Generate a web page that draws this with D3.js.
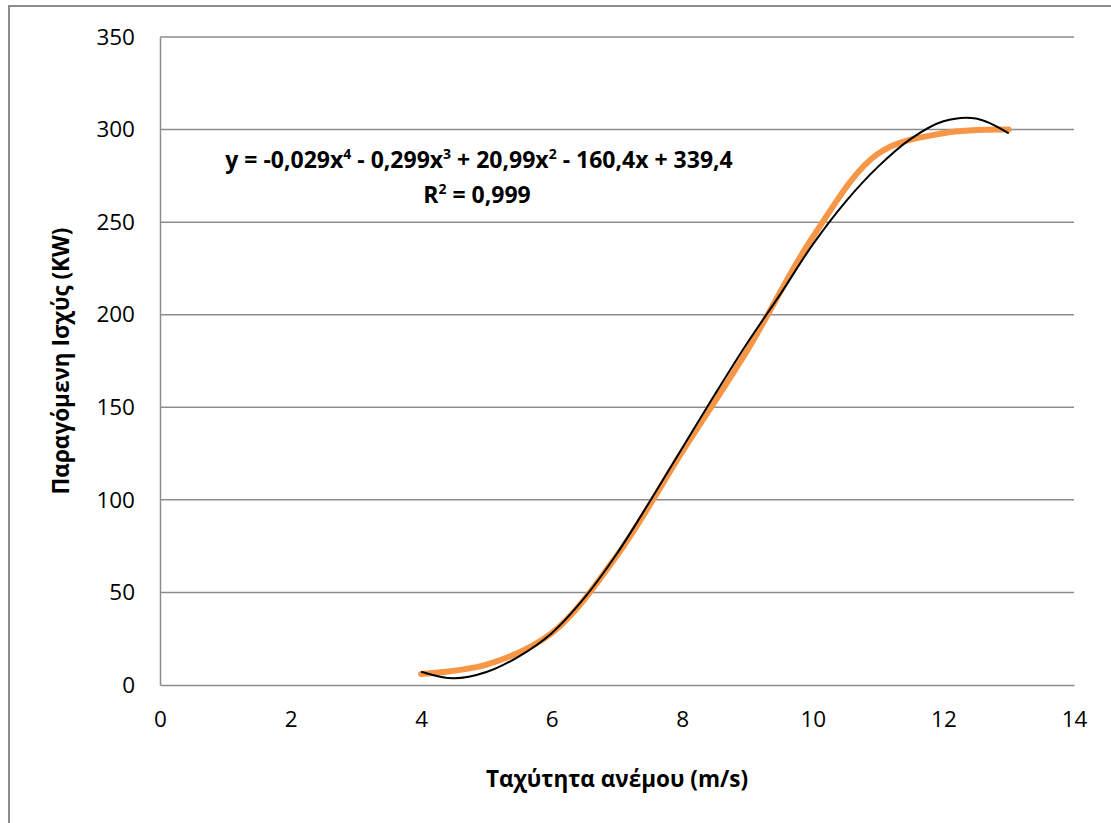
<!DOCTYPE html>
<html>
<head>
<meta charset="utf-8">
<script src="https://cdn.jsdelivr.net/npm/d3@7"></script>
<style>
  body { margin: 0; background: #fff; }
  svg text { font-family: "Open Sans", "Noto Sans", sans-serif; fill: #000; }
</style>
</head>
<body>
<div id="chart"></div>
<script>
// wind speed (m/s) and produced power (kW)
const windSpeed = [4, 5, 6, 7, 8, 9, 10, 11, 12, 13];
const power = [6, 11, 28, 70, 126, 181, 242, 287, 298, 300];

// the 4th order trendline as drawn, sampled every 0.5 m/s
const trendX = [4, 4.5, 5, 5.5, 6, 6.5, 7, 7.5, 8, 8.5, 9, 9.5, 10, 10.5, 11, 11.5, 12, 12.5, 13];
const trendY = [7.2, 3.6, 7, 15.5, 28, 47, 71, 99, 128, 157, 185, 211, 238, 261, 280, 295, 304.5, 306, 298];

const xTicks = [0, 2, 4, 6, 8, 10, 12, 14];
const yTicks = [0, 50, 100, 150, 200, 250, 300, 350];

const width = 1111;
const height = 823;
const margin = { left: 160, right: 37, top: 37, bottom: 138 };

const svg = d3
  .select("#chart")
  .append("svg")
  .attr("width", width)
  .attr("height", height);

// outer chart border (runs off the right and bottom edge)
svg
  .append("rect")
  .attr("x", 9)
  .attr("y", 6)
  .attr("width", 1200)
  .attr("height", 1000)
  .attr("fill", "none")
  .attr("stroke", "#8c8c8c")
  .attr("stroke-width", 2);

const x = d3.scaleLinear().domain([0, 14]).range([margin.left, width - margin.right]);
const y = d3.scaleLinear().domain([0, 350]).range([height - margin.bottom, margin.top]);

// horizontal gridlines
svg
  .selectAll(".grid")
  .data(yTicks.filter((d) => d > 0))
  .join("line")
  .attr("class", "grid")
  .attr("x1", x(0))
  .attr("x2", x(14))
  .attr("y1", (d) => y(d))
  .attr("y2", (d) => y(d))
  .attr("stroke", "#8c8c8c")
  .attr("stroke-width", 1.5);

// axes
const xAxis = svg
  .append("g")
  .attr("transform", `translate(0,${y(0)})`)
  .call(d3.axisBottom(x).tickValues(xTicks).tickSize(0).tickPadding(34).tickFormat(d3.format("d")));
const yAxis = svg
  .append("g")
  .attr("transform", `translate(${x(0)},0)`)
  .call(d3.axisLeft(y).tickValues(yTicks).tickSize(0).tickPadding(25).tickFormat(d3.format("d")));

[xAxis, yAxis].forEach((g) => {
  g.select(".domain").attr("stroke", "#8c8c8c").attr("stroke-width", 1.5);
  g.selectAll("text").attr("font-size", 22.5).attr("font-family", null);
});
xAxis.selectAll("text").attr("dy", "0.35em");

// data line (smoothed like the original)
const line = d3
  .line()
  .x((d) => x(d[0]))
  .y((d) => y(d[1]))
  .curve(d3.curveCatmullRom.alpha(0.5));

svg
  .append("path")
  .datum(d3.zip(windSpeed, power))
  .attr("d", line)
  .attr("fill", "none")
  .attr("stroke", "#f79646")
  .attr("stroke-width", 6)
  .attr("stroke-linecap", "round");

svg
  .append("path")
  .datum(d3.zip(trendX, trendY))
  .attr("d", line)
  .attr("fill", "none")
  .attr("stroke", "#000")
  .attr("stroke-width", 2);

// trendline equation, superscripts as raised tspans
function writeEquation(textSel, parts) {
  let shift = 0;
  parts.forEach(([t, sup]) => {
    textSel.append("tspan").attr("dy", -shift).text(t);
    shift = 0;
    if (sup) {
      textSel.append("tspan").attr("font-size", 14).attr("dy", -9).text(sup);
      shift = -9;
    }
  });
}

const eq = svg
  .append("text")
  .attr("x", 479)
  .attr("y", 168)
  .attr("text-anchor", "middle")
  .attr("font-size", 23)
  .attr("font-weight", "bold");
writeEquation(eq, [
  ["y = -0,029x", "4"],
  [" - 0,299x", "3"],
  [" + 20,99x", "2"],
  [" - 160,4x + 339,4", null],
]);

const r2 = svg
  .append("text")
  .attr("x", 477)
  .attr("y", 203)
  .attr("text-anchor", "middle")
  .attr("font-size", 23)
  .attr("font-weight", "bold");
writeEquation(r2, [
  ["R", "2"],
  [" = 0,999", null],
]);

// axis titles
svg
  .append("text")
  .attr("x", x(7))
  .attr("y", 787)
  .attr("text-anchor", "middle")
  .attr("font-size", 22.5)
  .attr("font-weight", "bold")
  .text("Ταχύτητα ανέμου (m/s)");

svg
  .append("text")
  .attr("transform", `translate(69,${y(175)}) rotate(-90)`)
  .attr("text-anchor", "middle")
  .attr("font-size", 22.5)
  .attr("font-weight", "bold")
  .text("Παραγόμενη Ισχύς (KW)");
</script>
</body>
</html>
